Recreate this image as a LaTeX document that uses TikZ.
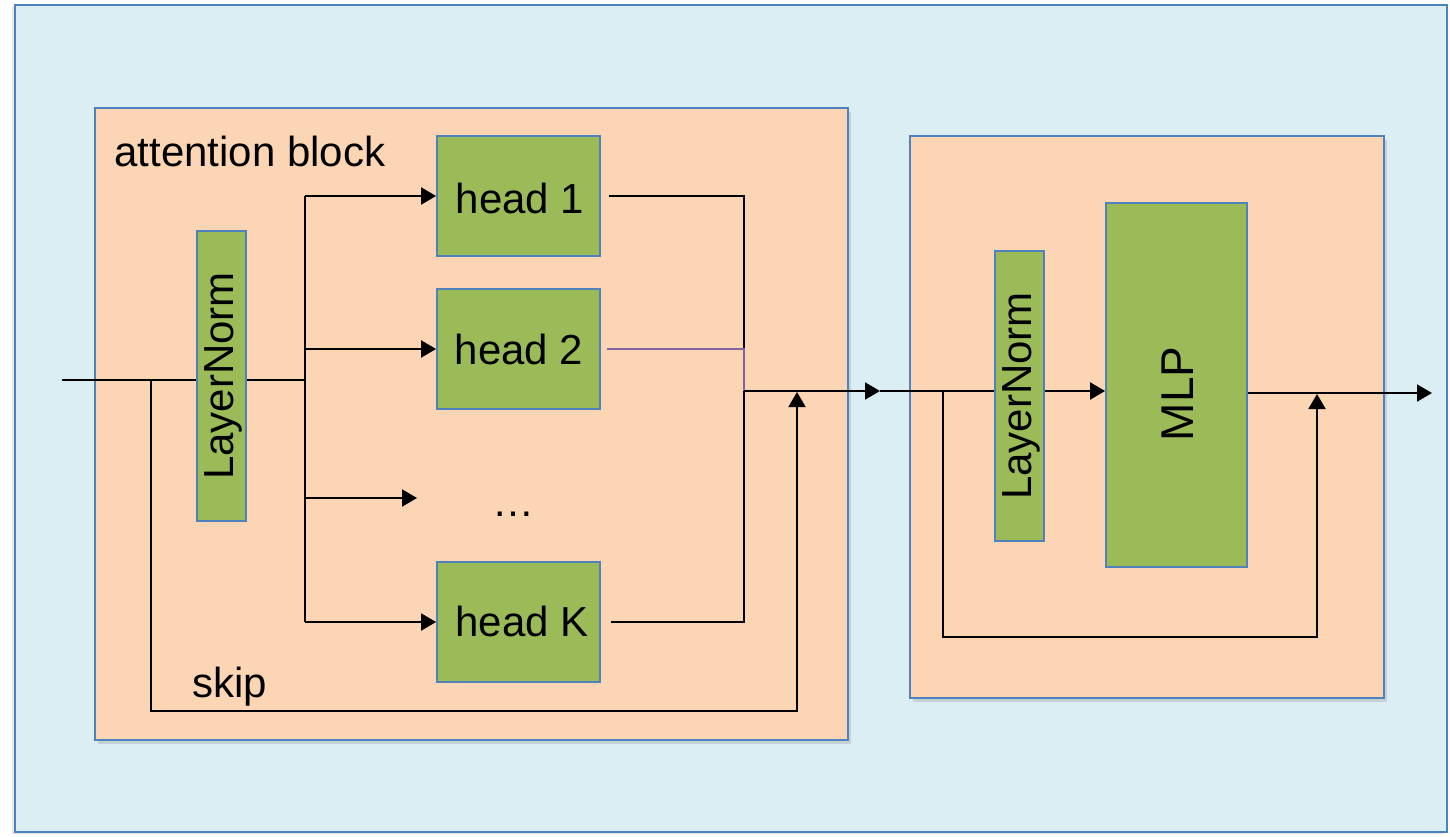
\documentclass[tikz,border=0pt]{standalone}
\usepackage{fontspec}
\setmainfont{Liberation Sans}
\usetikzlibrary{fit,arrows.meta,shadows}

\definecolor{skyfill}{HTML}{DBEEF4}
\definecolor{edgeblue}{HTML}{4F81BD}
\definecolor{peach}{HTML}{FCD5B5}
\definecolor{leaf}{HTML}{9BBB59}
\definecolor{violetline}{HTML}{8064A2}
\newcommand\diagfont{\fontsize{21}{25}\selectfont}

\tikzset{
  x=0.5pt, y=-0.5pt,
  canvasbox/.style={draw=edgeblue, line width=1pt, fill=skyfill, inner sep=0pt,
    drop shadow={shadow xshift=-1.5pt, shadow yshift=-1pt, opacity=0.2}},
  panel/.style={draw=edgeblue, line width=1pt, fill=peach, inner sep=0pt,
    drop shadow={shadow xshift=1.5pt, shadow yshift=-2pt, opacity=0.25}},
  unit/.style={draw=edgeblue, line width=0.9pt, fill=leaf, inner sep=0pt},
  txt/.style={font=\diagfont, inner sep=0pt},
  vtxt/.style={font=\diagfont, inner sep=0pt, rotate=90},
  wire/.style={line width=1pt, draw=black},
  arr/.style={wire, -{Triangle[length=7.5pt,width=8.5pt]}},
}

\begin{document}
\begin{tikzpicture}
\useasboundingbox (0,0) rectangle (1450,836);

% containers
\node[canvasbox, fit={(15,5)(1447,832)}] (canvas) {};
\node[panel, fit={(95,108)(848,740)}] (attn) {};
\node[panel, fit={(910,136)(1384,698)}] (mlpblk) {};

% attention block contents
\node[txt, anchor=base west] (title) at (114,166) {attention block};
\node[txt, anchor=base west] (skiplbl) at (192,697) {skip};
\node[unit, fit={(197,231)(246,521)}] (ln1) {};
\node[vtxt] at (223,376) {LayerNorm};
\node[unit, fit={(437,136)(600,256)}] (h1) {};
\node[txt] at (520,198) {head 1};
\node[unit, fit={(437,289)(600,409)}] (h2) {};
\node[txt] at (519,349) {head 2};
\node[unit, fit={(437,562)(600,682)}] (hK) {};
\node[txt] at (522,621) {head K};
\node[txt, anchor=base] (dots) at (513,516) {…};

% MLP block contents
\node[unit, fit={(995,251)(1044,541)}] (ln2) {};
\node[vtxt] at (1021,396) {LayerNorm};
\node[unit, fit={(1106,203)(1247,567)}] (mlp) {};
\node[vtxt, font=\fontsize{23}{27}\selectfont] at (1178,394) {MLP};

% junction points
\coordinate (in) at (62,380);
\coordinate (split1) at (151,380);
\coordinate (bus) at (305,380);
\coordinate (dotsin) at (417,498);
\coordinate (merge) at (744,391);
\coordinate (skiptip1) at (797,392);
\coordinate (mid) at (880,391);
\coordinate (split2) at (943,391);
\coordinate (skiptip2) at (1317,394);
\coordinate (out) at (1432,393);

% input and residual path of the attention block
\draw[wire] (in) -- (ln1.west |- in);
\draw[arr] (split1) |- (797,711) -- (skiptip1);

% fan-out to the heads
\draw[wire] (ln1.east |- in) -- (bus);
\draw[wire] (bus |- h1.west) -- (bus |- hK.west);
\draw[arr] (bus |- h1.west) -- (h1.west);
\draw[arr] (bus |- h2.west) -- (h2.west);
\draw[arr] (bus |- dotsin) -- (dotsin);
\draw[arr] (bus |- hK.west) -- (hK.west);

% heads merge
\draw[wire] ([xshift=4pt]h1.east) -| (merge);
\draw[wire, violetline] ([xshift=3pt]h2.east) -| (merge);
\draw[wire] ([xshift=5pt]hK.east) -| (merge);

% into the MLP block
\draw[arr] (merge) -- (mid);
\draw[wire] (mid) -- (ln2.west |- merge);
\draw[arr] (split2) |- (1317,637) -- (skiptip2);
\draw[arr] (ln2.east |- merge) -- (mlp.west |- merge);
\draw[arr] (mlp.east |- out) -- (out);
\end{tikzpicture}
\end{document}
